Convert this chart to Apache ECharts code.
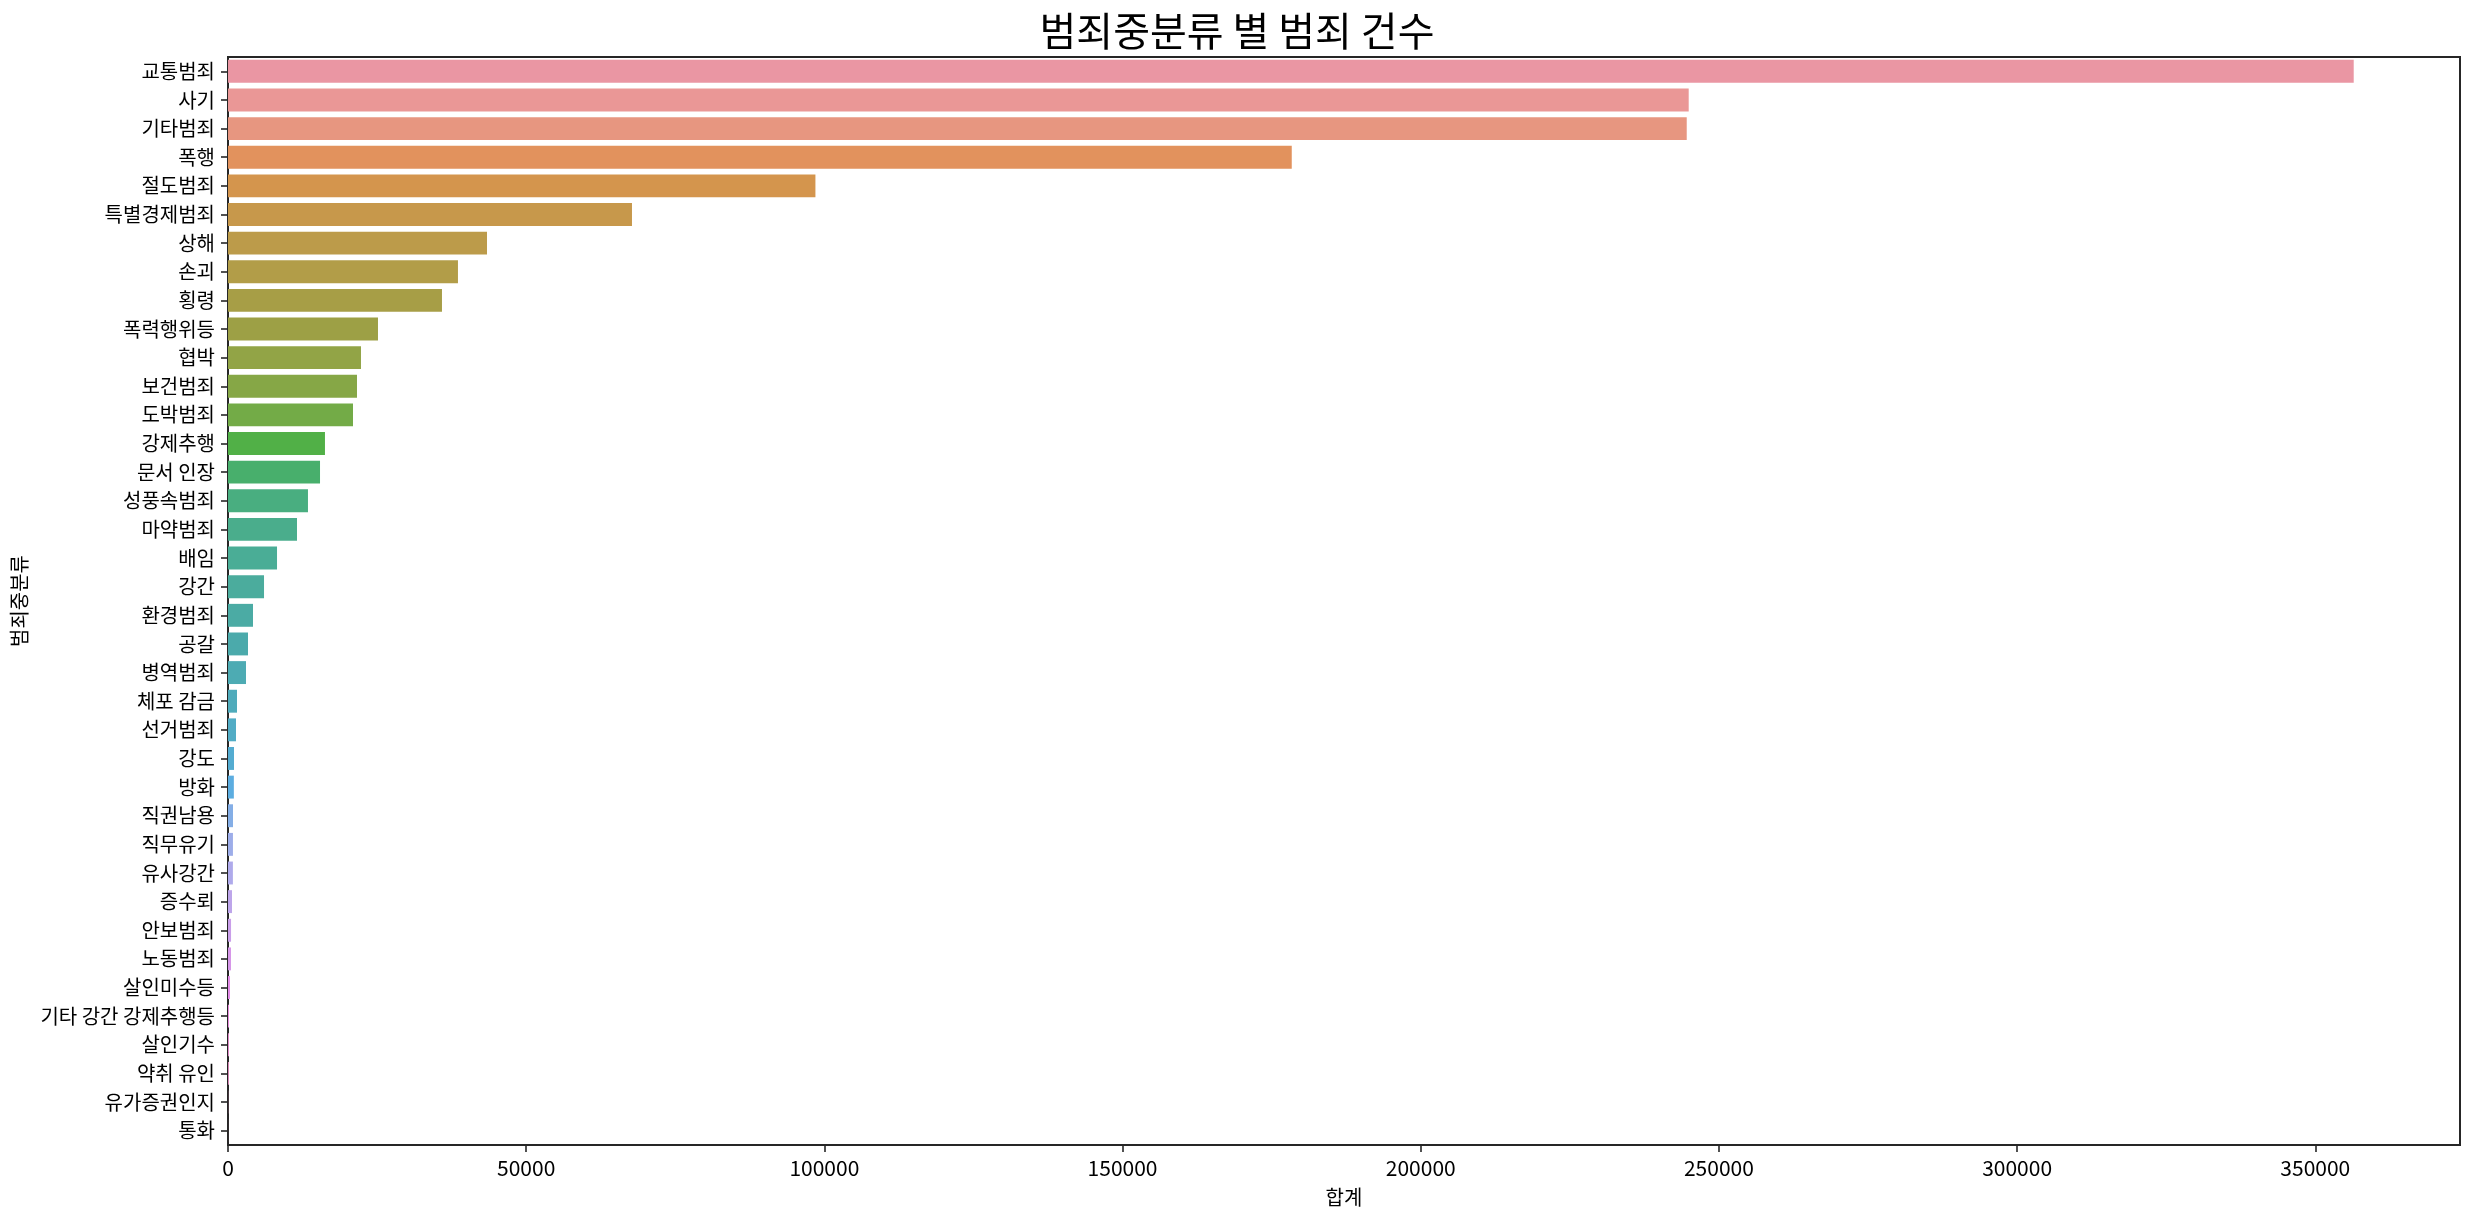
<!DOCTYPE html>
<html><head><meta charset="utf-8">
<script src="https://cdn.jsdelivr.net/npm/echarts@6/dist/echarts.min.js"></script>
<style>html,body{margin:0;padding:0;background:#fff}#c{width:2474px;height:1225px}</style>
</head><body><div id="c"></div>
<script>
const categories = ['교통범죄','사기','기타범죄','폭행','절도범죄','특별경제범죄','상해','손괴','횡령','폭력행위등','협박','보건범죄','도박범죄','강제추행','문서 인장','성풍속범죄','마약범죄','배임','강간','환경범죄','공갈','병역범죄','체포 감금','선거범죄','강도','방화','직권남용','직무유기','유사강간','증수뢰','안보범죄','노동범죄','살인미수등','기타 강간 강제추행등','살인기수','약취 유인','유가증권인지','통화'];
const totals = [356440,244930,244600,178370,98500,67740,43430,38560,35880,25150,22300,21630,20960,16260,15430,13410,11570,8220,6040,4190,3350,3020,1510,1340,1010,980,840,830,820,670,510,500,340,170,160,150,30,10];
const xTicks = [0,50000,100000,150000,200000,250000,300000,350000];

// seaborn husl palette (l=.7) desaturated by 0.75
const M = [[3.2406,-1.5372,-0.4986],[-0.9689,1.8758,0.0415],[0.0557,-0.2040,1.0570]];
const refU = 0.19784, refV = 0.46834, labE = 0.008856, labK = 903.3;
function maxChroma(L, H) {
  const hr = H * Math.PI / 180, sinH = Math.sin(hr), cosH = Math.cos(hr);
  const sub1 = Math.pow(L + 16, 3) / 1560896.0;
  const sub2 = sub1 > 0.008856 ? sub1 : L / 903.3;
  let res = Infinity;
  for (const r of M) {
    const top = (0.99915*r[0] + 1.05122*r[1] + 1.14460*r[2]) * sub2;
    const rb = 0.86330*r[2] - 0.17266*r[1];
    const lb = 0.12949*r[2] - 0.38848*r[0];
    const bottom = (rb*sinH + lb*cosH) * sub2;
    for (const t of [0,1]) {
      const C = L * (top - 1.05122*t) / (bottom + 0.17266*sinH*t);
      if (C > 0 && C < res) res = C;
    }
  }
  return res;
}
function fInv(t){ const t3=t*t*t; return t3>labE ? t3 : (116*t-16)/labK; }
function fromLin(c){ return c<=0.0031308 ? 12.92*c : 1.055*Math.pow(c,1/2.4)-0.055; }
function huslToRgb(H,S,L){
  const C = maxChroma(L,H)/100*S;
  const hr = H*Math.PI/180, U = Math.cos(hr)*C, V = Math.sin(hr)*C;
  const vY = fInv((L+16)/116), vU = U/(13*L)+refU, vV = V/(13*L)+refV;
  const Y = vY, X = -(9*Y*vU)/((vU-4)*vV - vU*vV), Z = (9*Y - 15*vV*Y - vV*X)/(3*vV);
  return M.map(r => Math.min(1, Math.max(0, fromLin(r[0]*X + r[1]*Y + r[2]*Z))));
}
function rgbToHls(r,g,b){
  const mx=Math.max(r,g,b), mn=Math.min(r,g,b), l=(mx+mn)/2;
  if (mx===mn) return [0,l,0];
  const d=mx-mn, s = l<=0.5 ? d/(mx+mn) : d/(2-mx-mn);
  const rc=(mx-r)/d, gc=(mx-g)/d, bc=(mx-b)/d;
  let h = r===mx ? bc-gc : (g===mx ? 2+rc-bc : 4+gc-rc);
  h = ((h/6)%1+1)%1;
  return [h,l,s];
}
function v(m1,m2,h){ h=((h%1)+1)%1; if(h<1/6) return m1+(m2-m1)*h*6; if(h<0.5) return m2; if(h<2/3) return m1+(m2-m1)*(2/3-h)*6; return m1; }
function hlsToRgb(h,l,s){ if(s===0) return [l,l,l]; const m2 = l<=0.5 ? l*(1+s) : l+s-l*s; const m1=2*l-m2; return [v(m1,m2,h+1/3), v(m1,m2,h), v(m1,m2,h-1/3)]; }
function palette(n){
  const out=[];
  for (let i=0;i<n;i++){
    let h = (i/n + 0.01) % 1; h *= 359;
    const rgb = huslToRgb(h, 0.9*99, 0.7*99);
    const hls = rgbToHls(...rgb);
    const d = hlsToRgb(hls[0], hls[1], hls[2]*0.75);
    out.push('rgb(' + d.map(x=>Math.round(x*255)).join(',') + ')');
  }
  return out;
}
const colors = palette(categories.length);

const FONT = 'Noto Sans CJK KR';
const chart = echarts.init(document.getElementById('c'), null, {renderer:'canvas'});
chart.setOption({
  backgroundColor:'#fff',
  animation:false,
  textStyle:{fontFamily:FONT},
  title:{text:'범죄중분류 별 범죄 건수', left:'center', top:6, textStyle:{fontFamily:FONT, fontSize:40, fontWeight:'normal', color:'#000'}},
  grid:{left:228, right:14, top:57, bottom:80, show:true, borderColor:'#262626', borderWidth:2, backgroundColor:'transparent', containLabel:false},
  xAxis:{type:'value', min:0, max:Math.max(...totals)*1.05, interval:50000,
    name:'합계', nameLocation:'middle', nameGap:42, nameTextStyle:{fontFamily:FONT, fontSize:20, color:'#000'},
    axisLine:{show:true, lineStyle:{color:'#262626', width:2}},
    axisTick:{show:true, length:7, lineStyle:{color:'#262626', width:1.6}, customValues:xTicks},
    axisLabel:{fontFamily:FONT, fontSize:21, color:'#000', margin:13, customValues:xTicks, formatter:(val)=>String(val)},
    splitLine:{show:false}},
  yAxis:{type:'category', data:categories, inverse:true,
    name:'범죄중분류', nameLocation:'middle', nameRotate:90, nameGap:195, nameTextStyle:{fontFamily:FONT, fontSize:20, color:'#000'},
    axisLine:{show:true, lineStyle:{color:'#262626', width:2}},
    axisTick:{show:true, alignWithLabel:true, length:7, lineStyle:{color:'#262626', width:1.6}},
    axisLabel:{fontFamily:FONT, fontSize:20, color:'#000', margin:13, interval:0}},
  series:[{type:'bar', barCategoryGap:'20%',
    data: totals.map((val,i)=>({value:val, itemStyle:{color:colors[i]}}))}]
});
</script></body></html>
